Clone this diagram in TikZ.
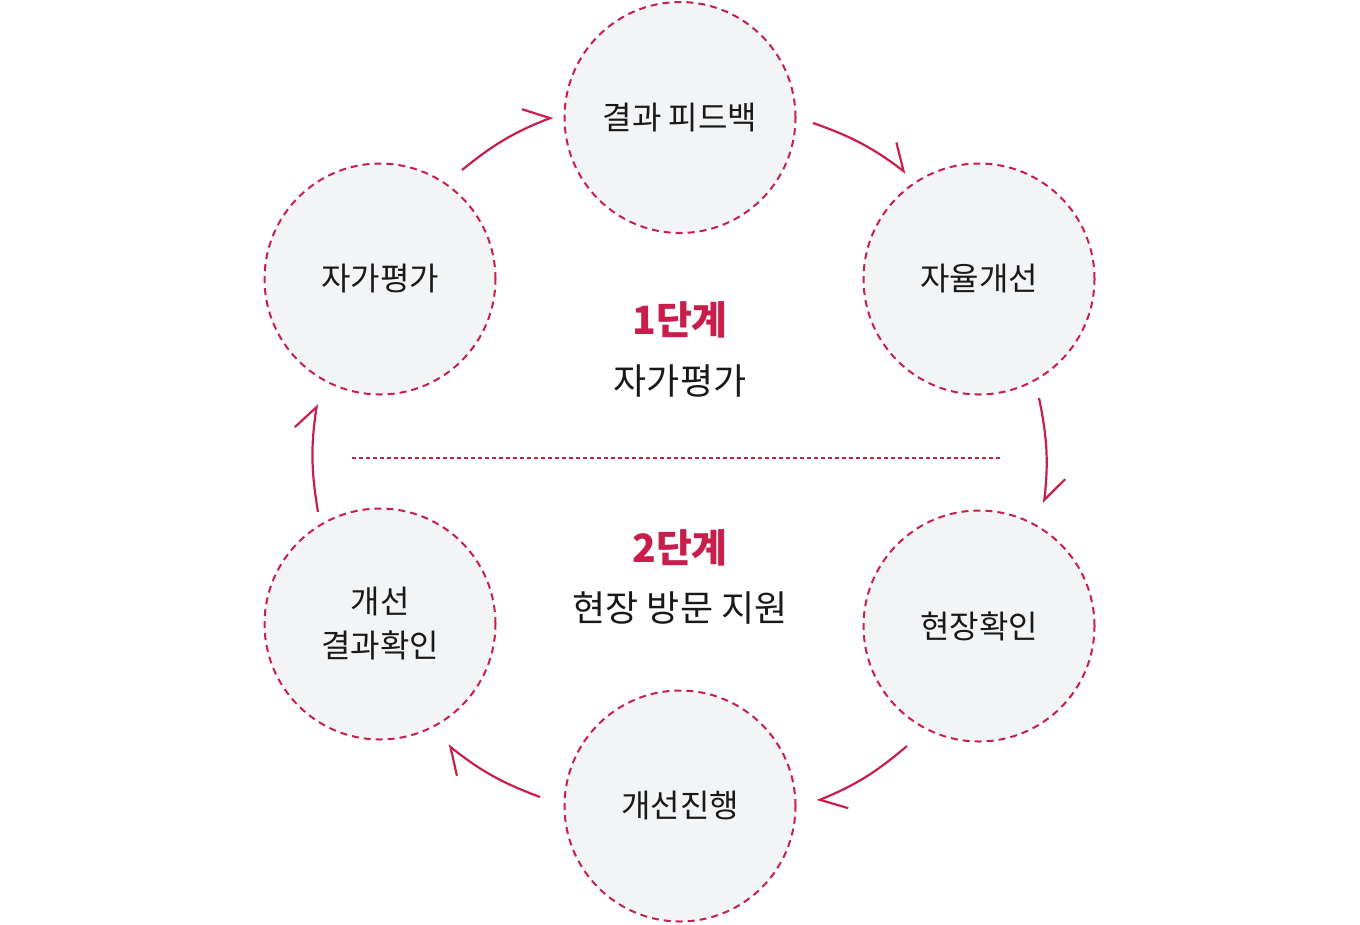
\documentclass[tikz,border=0pt]{standalone}
\usepackage{fontspec}
\setmainfont{Noto Sans CJK KR}
\usetikzlibrary{arrows.meta}
\definecolor{accent}{RGB}{200,30,75}
\definecolor{cfill}{RGB}{243,244,246}
\definecolor{txt}{RGB}{25,25,25}
\tikzset{
  stage/.style={circle, draw=accent, fill=cfill, line width=2pt, dash pattern=on 7pt off 5pt, minimum size=231pt, inner sep=0pt, text=txt, font=\fontsize{32}{44}\selectfont, align=center},
  flow/.style={draw=accent, line width=2.2pt, -{Straight Barb[harpoon, length=23pt, width=37pt, line width=2.2pt]}},
  steplabel/.style={text=accent, font=\fontsize{39}{42}\selectfont\bfseries},
  sublabel/.style={text=txt, font=\fontsize{36}{40}\selectfont}
}
\begin{document}
\begin{tikzpicture}[x=1pt, y=-1pt]
\useasboundingbox (0,0) rectangle (1360,924);
\node[stage] (c1) at (680,117.5) {결과 피드백};
\node[stage] (c2) at (979,279) {자율개선};
\node[stage] (c3) at (979,626) {현장확인};
\node[stage] (c4) at (680,806) {개선진행};
\node[stage] (c5) at (380,624) {개선\\결과확인};
\node[stage] (c6) at (380,279) {자가평가};
\node[steplabel] (s1) at (680,320) {1단계};
\node[sublabel] (t1) at (680,381) {자가평가};
\node[steplabel] (s2) at (680,548) {2단계};
\node[sublabel] (t2) at (680,608) {현장 방문 지원};
\coordinate (d1) at (352,457.5);
\coordinate (d2) at (1000,457.5);
\draw[accent, line width=2pt, dash pattern=on 4pt off 3pt] (d1) -- (d2);
\coordinate (a1s) at (813,123); \coordinate (a1e) at (906,173);
\coordinate (a2s) at (1039,398); \coordinate (a2e) at (1044,503);
\coordinate (a3s) at (907,746); \coordinate (a3e) at (817,801);
\coordinate (a4s) at (540,797); \coordinate (a4e) at (448,745);
\coordinate (a5s) at (318,512); \coordinate (a5e) at (317,404);
\coordinate (a6s) at (462,170); \coordinate (a6e) at (553,117);
\draw[flow] (a1s) to[bend left=9] (a1e);
\draw[flow] (a2s) to[bend left=9] (a2e);
\draw[flow] (a3s) to[bend left=9] (a3e);
\draw[flow] (a4s) to[bend left=9] (a4e);
\draw[flow] (a5s) to[bend left=9] (a5e);
\draw[flow] (a6s) to[bend left=9] (a6e);
\end{tikzpicture}
\end{document}
